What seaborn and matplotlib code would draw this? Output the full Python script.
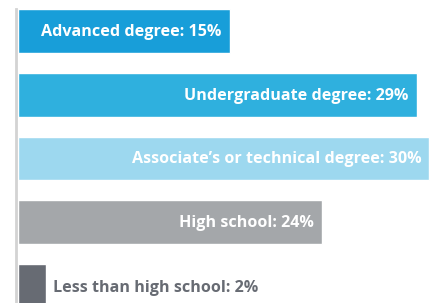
import matplotlib.pyplot as plt
import seaborn as sns
import pandas as pd

# education levels, top to bottom
categories = ['Advanced degree', 'Undergraduate degree',
              "Associate\u2019s or technical degree", 'High school',
              'Less than high school']
shares = [15, 29, 30, 24, 2]                   # values printed in the labels
bar_lengths = [15.4, 29.0, 29.9, 22.1, 2.0]    # bar lengths as drawn in the picture
colors = ['#189ed9', '#2fb0de', '#9dd8ef', '#a4a7aa', '#676b73']

df = pd.DataFrame({'level': categories, 'length': bar_lengths})

sns.set_style('white')
plt.rcParams['font.family'] = ['Open Sans', 'DejaVu Sans']

fig = plt.figure(figsize=(4.37, 3.03), dpi=100)
ax = fig.add_axes([18 / 437, 0, 1 - 18 / 437, 1])

sns.barplot(data=df, x='length', y='level', hue='level', palette=colors,
            orient='h', width=0.6875, legend=False, ax=ax, saturation=1)

ax.set_xlim(0, 30.47)
ax.set_ylim(4.266, -0.484)
ax.set_xlabel('')
ax.set_ylabel('')
ax.set_xticks([])
ax.set_yticks([])
for s in ['top', 'right', 'bottom']:
    ax.spines[s].set_visible(False)
ax.spines['left'].set_color('#d3d3d3')
ax.spines['left'].set_linewidth(2)
ax.spines['left'].set_position(('outward', 1.5))
ax.spines['left'].set_bounds(4.266, -0.34)

for i, (lab, val, ln) in enumerate(zip(categories, shares, bar_lengths)):
    text = f'{lab}: {val}%'
    if val < 5:
        ax.annotate(text, (ln, i), xytext=(7, -2), textcoords='offset pixels',
                    ha='left', va='center', color='#676b73',
                    fontsize=11.6, fontweight='bold')
    else:
        ax.annotate(text, (ln, i), xytext=(-8, -1), textcoords='offset pixels',
                    ha='right', va='center', color='white',
                    fontsize=11.6, fontweight='bold')

fig.savefig('out.png', dpi=100)
